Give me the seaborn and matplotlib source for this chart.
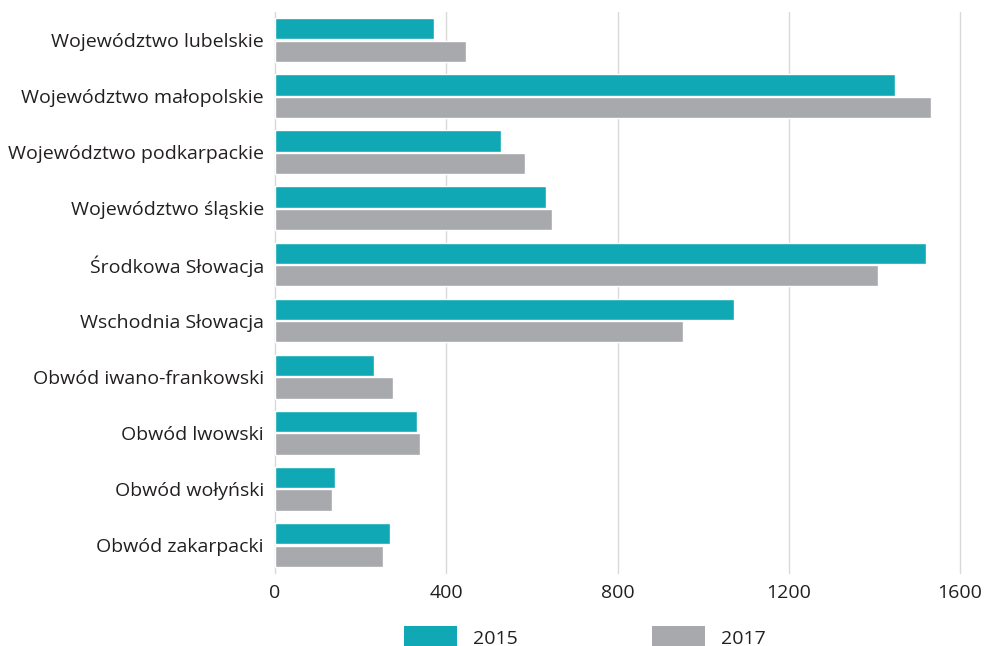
import matplotlib
matplotlib.use("Agg")
import matplotlib.pyplot as plt
import seaborn as sns
import pandas as pd
from matplotlib.patches import Patch

regions = [
    "Województwo lubelskie",
    "Województwo małopolskie",
    "Województwo podkarpackie",
    "Województwo śląskie",
    "Środkowa Słowacja",
    "Wschodnia Słowacja",
    "Obwód iwano-frankowski",
    "Obwód lwowski",
    "Obwód wołyński",
    "Obwód zakarpacki",
]
values_2015 = [371, 1449, 527, 634, 1521, 1071, 231, 331, 140, 269]
values_2017 = [446, 1533, 583, 646, 1409, 952, 276, 338, 133, 252]
years = ["2015", "2017"]
colors = ["#10a8b4", "#a8a9ad"]
xticks = [0, 400, 800, 1200, 1600]

df = pd.DataFrame({
    "region": regions * 2,
    "year": [years[0]] * len(regions) + [years[1]] * len(regions),
    "value": values_2015 + values_2017,
})

sns.set_theme(style="white")
plt.rcParams["font.family"] = ["Open Sans", "DejaVu Sans"]

fig = plt.figure(figsize=(9.84, 6.46), dpi=100)
ax = fig.add_axes([275 / 984, 1 - 573 / 646, (960 - 275) / 984, (573 - 12) / 646])

sns.barplot(data=df, y="region", x="value", hue="year", orient="h",
            palette=colors, width=0.8, gap=0.05, saturation=1,
            order=regions, hue_order=years, ax=ax, legend=False, zorder=3)

ax.set_xlim(0, 1600)
ax.set_xticks(xticks)
ax.set_xticklabels([str(t) for t in xticks])
ax.set_ylim(len(regions) - 0.5, -0.5)
ax.set_xlabel("")
ax.set_ylabel("")
for s in ax.spines.values():
    s.set_visible(False)
ax.grid(axis="x", color="#d9d9d9", linewidth=1, zorder=0)
ax.grid(axis="y", visible=False)
ax.set_axisbelow(True)
for gl in ax.get_xgridlines():
    gl.set_clip_on(False)
ax.tick_params(axis="y", length=0, pad=8, labelsize=14, labelcolor="#231f20")
ax.tick_params(axis="x", length=0, pad=8, labelsize=14, labelcolor="#231f20")

handles = [Patch(facecolor=c, edgecolor="none") for c in colors]
fig.legend(handles, years, loc="center left", bbox_to_anchor=(404 / 984, 1 - 637 / 646),
           ncol=2, frameon=False, fontsize=14, handlelength=2.75, handleheight=1.3,
           handletextpad=0.8, columnspacing=6.9, labelcolor="#231f20", borderaxespad=0,
           borderpad=0)

fig.savefig("out.png", dpi=100)
